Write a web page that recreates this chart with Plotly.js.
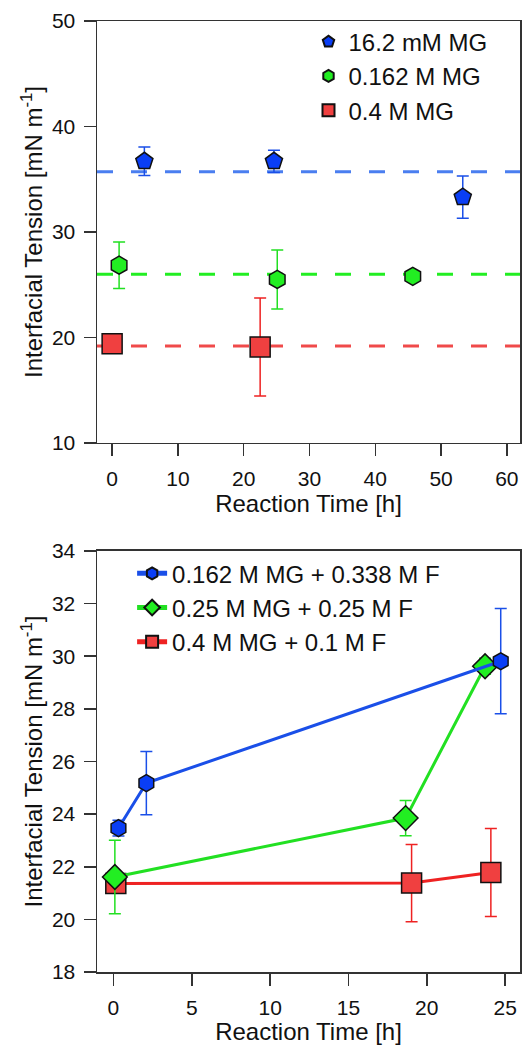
<!DOCTYPE html>
<html>
<head>
<meta charset="utf-8">
<script src="https://cdn.plot.ly/plotly-3.0.1.min.js"></script>
<style>html,body{margin:0;padding:0;background:#fff;}#chart{width:522px;height:1045px;}</style>
</head>
<body>
<div id="chart"></div>
<script>
// ---------- Top panel data ----------
const topNames = ['16.2 mM MG', '0.162 M MG', '0.4 M MG'];
const topX_16mM = [4.9, 24.6, 53.3];
const topY_16mM = [36.7, 36.7, 33.3];
const topErr_16mM = [1.35, 1.05, 2.0];
const topX_162M = [1.06, 25.1, 45.7];
const topY_162M = [26.85, 25.5, 25.8];
const topErr_162M = [2.2, 2.8, 0.3];
const topX_04M = [0.0, 22.5];
const topY_04M = [19.4, 19.1];
const topErr_04M = [0.3, 4.65];
const topMeans = [35.7, 26.0, 19.2];

// ---------- Bottom panel data ----------
const botNames = ['0.162 M MG + 0.338 M F', '0.25 M MG + 0.25 M F', '0.4 M MG + 0.1 M F'];
const botX_a = [0.32, 2.1, 24.72];
const botY_a = [23.47, 25.18, 29.81];
const botErr_a = [0.3, 1.2, 2.0];
const botX_b = [0.09, 18.65, 23.72];
const botY_b = [21.61, 23.85, 29.62];
const botErr_b = [1.4, 0.67, 0.3];
const botX_c = [0.15, 19.03, 24.09];
const botY_c = [21.36, 21.38, 21.78];
const botErr_c = [0.3, 1.47, 1.67];

const topXTicks = [0, 10, 20, 30, 40, 50, 60];
const topYTicks = [10, 20, 30, 40, 50];
const botXTicks = [0, 5, 10, 15, 20, 25];
const botYTicks = [18, 20, 22, 24, 26, 28, 30, 32, 34];

const blueFill = '#0a3ef5', greenFill = '#22ee22', redFill = '#f04040';
const blueLine = '#1a4fe8', greenLine = '#22e022', redLine = '#ee2222';
const blueDash = '#4a7ef0', greenDash = '#22ee22', redDash = '#f04a4a';

function errY(arr, color) {
  return {type: 'data', array: arr, visible: true, color: color, thickness: 1.5, width: 6};
}
function mk(symbol, size, color) {
  return {symbol: symbol, size: size, color: color, line: {color: '#111', width: 1.5}};
}

const traces = [
  {x: topX_16mM, y: topY_16mM, name: topNames[0], mode: 'markers', type: 'scatter',
   xaxis: 'x', yaxis: 'y', legend: 'legend', marker: mk('pentagon', 18, blueFill), error_y: errY(topErr_16mM, blueLine)},
  {x: topX_162M, y: topY_162M, name: topNames[1], mode: 'markers', type: 'scatter',
   xaxis: 'x', yaxis: 'y', legend: 'legend', marker: mk('hexagon', 18, greenFill), error_y: errY(topErr_162M, greenLine)},
  {x: topX_04M, y: topY_04M, name: topNames[2], mode: 'markers', type: 'scatter',
   xaxis: 'x', yaxis: 'y', legend: 'legend', marker: mk('square', 20, redFill), error_y: errY(topErr_04M, redLine)},
  {x: botX_a, y: botY_a, name: botNames[0], mode: 'lines+markers', type: 'scatter',
   xaxis: 'x2', yaxis: 'y2', legend: 'legend2', line: {color: blueLine, width: 3},
   marker: mk('hexagon', 17, blueFill), error_y: errY(botErr_a, blueLine)},
  {x: botX_b, y: botY_b, name: botNames[1], mode: 'lines+markers', type: 'scatter',
   xaxis: 'x2', yaxis: 'y2', legend: 'legend2', line: {color: greenLine, width: 3},
   marker: mk('diamond', 19, greenFill), error_y: errY(botErr_b, greenLine)},
  {x: botX_c, y: botY_c, name: botNames[2], mode: 'lines+markers', type: 'scatter',
   xaxis: 'x2', yaxis: 'y2', legend: 'legend2', line: {color: redLine, width: 3},
   marker: mk('square', 20, redFill), error_y: errY(botErr_c, redLine)}
];
// draw bottom traces in reference stacking order (red under green under blue)
const ordered = [traces[0], traces[1], traces[2], traces[5], traces[4], traces[3]];

const dashColors = [blueDash, greenDash, redDash];
const shapes = topMeans.map((m, i) => ({
  type: 'line', xref: 'x domain', x0: 0, x1: 1, yref: 'y', y0: m, y1: m,
  layer: 'below', line: {color: dashColors[i], width: 3, dash: '16px,18px'}
}));

const FONT = '"Liberation Sans", Arial, Helvetica, sans-serif';
const axisCommon = {
  showline: true, mirror: true, linecolor: '#333', linewidth: 1.5,
  ticks: 'outside', ticklen: 12, tickwidth: 1.5, tickcolor: '#333',
  showgrid: false, zeroline: false, automargin: false,
  tickfont: {family: FONT, size: 21, color: '#111'}, ticklabelstandoff: 4
};
const yTitle = 'Interfacial Tension [mN m<sup>-1</sup>]';

const layout = {
  width: 522, height: 1045,
  margin: {l: 97, r: 2, t: 21, b: 73},
  paper_bgcolor: '#fff', plot_bgcolor: '#fff',
  font: {family: FONT, color: '#111'},
  showlegend: true,
  xaxis: Object.assign({}, axisCommon, {anchor: 'y', domain: [0, 1], range: [-2.3, 62],
    tickvals: topXTicks, title: {text: 'Reaction Time [h]', font: {family: FONT, size: 24}, standoff: 5}}),
  yaxis: Object.assign({}, axisCommon, {anchor: 'x', domain: [0.5563, 1], range: [10, 50],
    tickvals: topYTicks, title: {text: yTitle, font: {family: FONT, size: 24}, standoff: 2}}),
  xaxis2: Object.assign({}, axisCommon, {anchor: 'y2', domain: [0, 1], range: [-1.05, 25.95],
    tickvals: botXTicks, title: {text: 'Reaction Time [h]', font: {family: FONT, size: 24}, standoff: 20}}),
  yaxis2: Object.assign({}, axisCommon, {anchor: 'x2', domain: [0, 0.4427], range: [18, 34],
    tickvals: botYTicks, title: {text: yTitle, font: {family: FONT, size: 24}, standoff: 2}}),
  legend: {x: 0.5, xanchor: 'left', y: 0.942, yanchor: 'middle', bgcolor: 'rgba(0,0,0,0)',
    font: {family: FONT, size: 24, color: '#111'}, itemsizing: 'constant', traceorder: 'normal'},
  legend2: {x: 0.083, xanchor: 'left', y: 0.383, yanchor: 'middle', bgcolor: 'rgba(0,0,0,0)',
    font: {family: FONT, size: 24, color: '#111'}, itemsizing: 'constant', traceorder: 'reversed'},
  shapes: shapes
};

Plotly.newPlot('chart', ordered, layout, {displayModeBar: false, staticPlot: true});
</script>
</body>
</html>
